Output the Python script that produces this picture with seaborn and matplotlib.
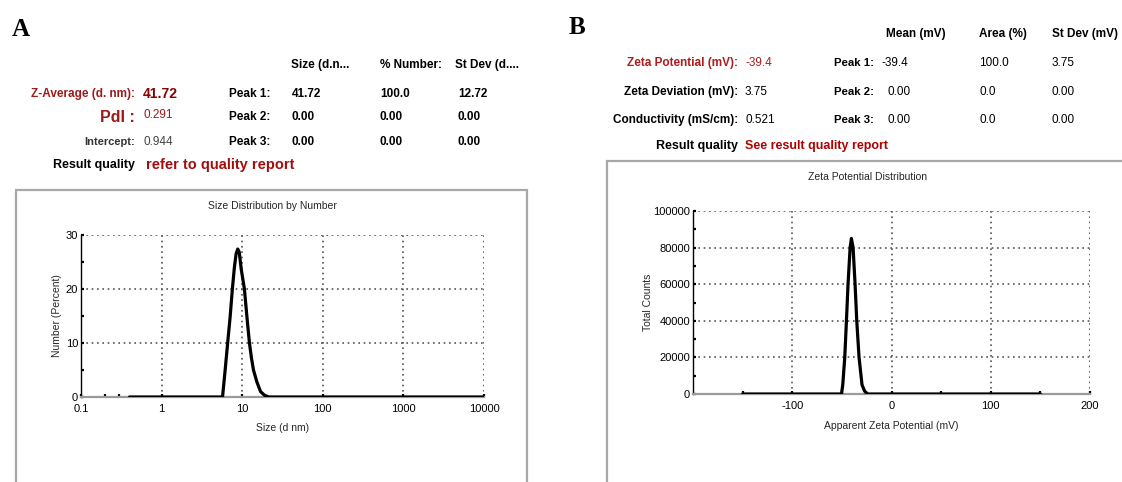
import numpy as np
import pandas as pd
import matplotlib
matplotlib.use("Agg")
import matplotlib.pyplot as plt
import seaborn as sns
from matplotlib.patches import Rectangle
from matplotlib.ticker import FixedLocator, NullFormatter

# ---------------- data ----------------
size_nm = [0.4, 5.7, 6.1, 6.6, 7.1, 7.55, 8.0, 8.4, 8.8, 9.2, 9.7, 10.65, 11.5, 12.3,
           13.0, 13.8, 15.2, 16.9, 19.0, 21.4, 10000]
number_pct = [0, 0, 4.5, 10, 15, 20, 24, 26.5, 27.4, 26.8, 23.8, 20, 14.5, 10,
              7.3, 5, 2.8, 1.0, 0.3, 0, 0]

zeta_mv = [-150, -50.4, -49.1, -47.1, -45.4, -43.8, -41.7, -40.4, -38.7, -36.7,
           -35.0, -32.7, -29.7, -27.0, -24.0, 150]
total_counts = [0, 0, 5000, 20000, 40000, 60000, 80000, 85000, 80000, 60000,
                40000, 20000, 5000, 1500, 0, 0]

size_ticks = [0.1, 1, 10, 100, 1000, 10000]
size_ticklabels = ["0.1", "1", "10", "100", "1000", "10000"]
pct_ticks = [0, 10, 20, 30]
zeta_ticks = [-100, 0, 100, 200]
zeta_ticklabels = ["-100", "0", "100", "200"]
count_ticks = [0, 20000, 40000, 60000, 80000, 100000]

# table A
a_headers = ["Size (d.n...", "% Number:", "St Dev (d...."]
a_peaks = ["Peak 1:", "Peak 2:", "Peak 3:"]
a_size = ["41.72", "0.00", "0.00"]
a_number = ["100.0", "0.00", "0.00"]
a_stdev = ["12.72", "0.00", "0.00"]
# table B
b_headers = ["Mean (mV)", "Area (%)", "St Dev (mV)"]
b_labels = ["Zeta Potential (mV):", "Zeta Deviation (mV):", "Conductivity (mS/cm):"]
b_values = ["-39.4", "3.75", "0.521"]
b_peaks = ["Peak 1:", "Peak 2:", "Peak 3:"]
b_mean = ["-39.4", "0.00", "0.00"]
b_area = ["100.0", "0.0", "0.0"]
b_stdev = ["3.75", "0.00", "0.00"]

# ---------------- figure ----------------
sns.set_theme(style="white")
NARROW = ["Liberation Sans Narrow", "Liberation Sans", "DejaVu Sans"]
plt.rcParams["font.family"] = NARROW

W, H = 1122, 482
fig = plt.figure(figsize=(W / 100, H / 100), dpi=100)
fig.patch.set_facecolor("white")


def box(l, t, r, b):
    return [l / W, 1 - b / H, (r - l) / W, (b - t) / H]


def txt(x, y, s, ha="left", size=8.5, weight="bold", color="black", family=None, **kw):
    fig.text(x / W, 1 - y / H, s, ha=ha, va="center", fontsize=size,
             fontweight=weight, color=color, family=family or NARROW, **kw)


# panel frames
for (l, t, r, b) in [(16, 190, 527, 495), (607, 161, 1135, 495)]:
    fig.add_artist(Rectangle((l / W, 1 - b / H), (r - l) / W, (b - t) / H,
                             transform=fig.transFigure, fill=False,
                             ec="#a8a8a8", lw=1.6, zorder=0))

# panel letters
txt(12, 30, "A", size=18, family=["Liberation Serif", "DejaVu Serif"])
txt(569, 27, "B", size=18, family=["Liberation Serif", "DejaVu Serif"])

# ---------------- table A ----------------
DR = "#9c1a1a"
ya = [65, 94, 117, 142, 165]
for x, s in zip([291, 380, 455], a_headers):
    txt(x, ya[0], s)
txt(135, ya[1], "Z-Average (d. nm):", ha="right", color=DR)
txt(143, ya[1], "41.72", size=10, color="#8b0000")
txt(135, ya[2], "PdI :", ha="right", size=11.5, weight="bold", color=DR)
txt(143, ya[2] - 2, "0.291", size=8.5, weight="normal", color=DR)
txt(135, ya[3], "Intercept:", ha="right", size=8, color="#333333")
txt(143, ya[3], "0.944", size=8.5, weight="normal", color="#444444")
for i in range(3):
    y = ya[i + 1]
    txt(229, y, a_peaks[i])
    txt(292, y, a_size[i])
    txt(380, y, a_number[i])
    txt(458, y, a_stdev[i])
txt(135, ya[4], "Result quality", ha="right", size=9)
txt(146, ya[4], "refer to quality report", size=10.5, color="#a50d0d")

# ---------------- table B ----------------
RB = "#b01c1c"
yb = [34, 63, 92, 120, 146]
for x, s in zip([886, 979, 1052], b_headers):
    txt(x, yb[0], s)
for i in range(3):
    y = yb[i + 1]
    txt(738, y, b_labels[i], ha="right", color=RB if i == 0 else "black")
    txt(745, y, b_values[i], weight="normal", color=RB if i == 0 else "black")
    txt(834, y, b_peaks[i], size=8.2)
    txt(882 if b_mean[i].startswith("-") else 887, y, b_mean[i], weight="normal")
    txt(979, y, b_area[i], weight="normal")
    txt(1052, y, b_stdev[i], weight="normal")
txt(738, yb[4], "Result quality", ha="right", size=9)
txt(745, yb[4], "See result quality report", size=9, color="#b00000")


# ---------------- plots ----------------
def style_axes(ax):
    ax.set_facecolor("white")
    for s in ["top", "right"]:
        ax.spines[s].set_visible(False)
    ax.spines["left"].set_color("black")
    ax.spines["left"].set_linewidth(1.0)
    ax.spines["bottom"].set_color("#9a9a9a")
    ax.spines["bottom"].set_linewidth(1.6)
    ax.grid(True, which="major", color="#555555", lw=1.2, ls=(0, (1.0, 2.2)))
    ax.grid(False, which="minor")
    ax.set_axisbelow(True)
    ax.tick_params(which="both", direction="in", length=2, width=1.6,
                   color="black", labelsize=8, labelcolor="black",
                   left=True, bottom=True)
    ax.tick_params(axis="x", which="both", pad=5)
    ax.tick_params(axis="y", which="both", pad=2)


# A: size distribution
axA = fig.add_axes(box(81, 235, 484, 397))
dfA = pd.DataFrame({"Size (d.nm)": size_nm, "Number (Percent)": number_pct})
sns.lineplot(data=dfA, x="Size (d.nm)", y="Number (Percent)", ax=axA,
             color="black", lw=2.3, errorbar=None, sort=False, zorder=5)
axA.set_xscale("log")
axA.set_xlim(0.1, 10000)
axA.set_ylim(0, 30)
style_axes(axA)
axA.xaxis.set_major_locator(FixedLocator(size_ticks))
axA.set_xticklabels(size_ticklabels)
axA.xaxis.set_minor_locator(FixedLocator([0.2, 0.3]))
axA.xaxis.set_minor_formatter(NullFormatter())
axA.set_yticks(pct_ticks)
axA.set_yticklabels([str(v) for v in pct_ticks])
axA.yaxis.set_minor_locator(FixedLocator([5, 15, 25]))
axA.set_xlabel("Size (d nm)", fontsize=7.5)
axA.set_ylabel("Number (Percent)", fontsize=7.5)
axA.xaxis.set_label_coords(0.5, (397 - 428) / 162, transform=axA.transAxes)
axA.yaxis.set_label_coords((57 - 81) / 403, 0.5, transform=axA.transAxes)
axA.xaxis.label.set_va("center")
axA.yaxis.label.set_va("center")
fig.text(272 / W, 1 - 206 / H, "Size Distribution by Number", ha="center",
         va="center", fontsize=7.5, family=NARROW)

# B: zeta potential
axB = fig.add_axes(box(693, 211, 1090, 394))
dfB = pd.DataFrame({"Apparent Zeta Potential (mV)": zeta_mv, "Total Counts": total_counts})
sns.lineplot(data=dfB, x="Apparent Zeta Potential (mV)", y="Total Counts", ax=axB,
             color="black", lw=2.3, errorbar=None, sort=False, zorder=5)
axB.set_xlim(-200, 200)
axB.set_ylim(0, 100000)
style_axes(axB)
axB.set_xticks(zeta_ticks)
axB.set_xticklabels(zeta_ticklabels)
axB.xaxis.set_minor_locator(FixedLocator([-150, -50, 50, 150]))
axB.set_yticks(count_ticks)
axB.set_yticklabels([str(v) for v in count_ticks])
axB.yaxis.set_minor_locator(FixedLocator([10000, 30000, 50000, 70000, 90000]))
axB.set_xlabel("Apparent Zeta Potential (mV)", fontsize=7.5)
axB.set_ylabel("Total Counts", fontsize=7.5)
axB.xaxis.set_label_coords(0.5, (394 - 426) / 183, transform=axB.transAxes)
axB.yaxis.set_label_coords((648 - 693) / 397, 0.5, transform=axB.transAxes)
axB.xaxis.label.set_va("center")
axB.yaxis.label.set_va("center")
fig.text(868 / W, 1 - 177 / H, "Zeta Potential Distribution", ha="center",
         va="center", fontsize=7.5, family=NARROW)

fig.savefig("out.png", dpi=100, facecolor="white")
